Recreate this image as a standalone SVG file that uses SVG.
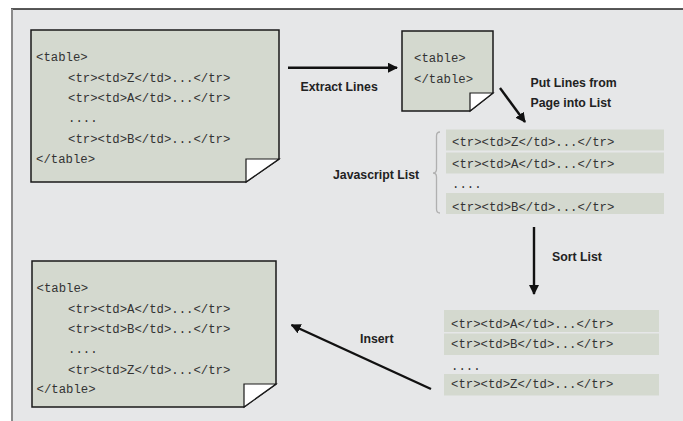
<svg xmlns="http://www.w3.org/2000/svg" width="683" height="421" viewBox="0 0 683 421">
<defs>
<style>
.page{fill:#d4d9cf;stroke:#1a1a1a;stroke-width:1.5}
.fold{fill:#ffffff;stroke:#1a1a1a;stroke-width:1.2}
.code{font-family:"Liberation Mono","Courier New","Nimbus Mono PS",Courier,monospace;font-size:12.3px;fill:#333}
.lbl{font-family:"Liberation Sans",Arial,sans-serif;font-size:12.3px;font-weight:bold;fill:#222}
.row{fill:#d4d9cf}
.conn{stroke:#111;stroke-width:2.4;fill:none}
</style>
<marker id="ah" viewBox="0 0 10 10" refX="9" refY="5" markerWidth="4.2" markerHeight="4.2" markerUnits="strokeWidth" orient="auto">
<path d="M0,0 L10,5 L0,10 z" fill="#111"/>
</marker>
</defs>
<rect x="0" y="0" width="683" height="421" fill="#ffffff"/>
<rect x="11" y="9" width="672" height="412" fill="#e6e7e8"/>
<line x1="11" y1="9" x2="683" y2="9" stroke="#222" stroke-width="1.6"/>
<line x1="12" y1="9" x2="12" y2="421" stroke="#8a8a8a" stroke-width="2"/>

<g id="page-original">
<path class="page" d="M31,30 H279 V159 L246,182 H31 Z"/>
<path class="fold" d="M246,159 H279 L246,182 Z"/>
<text class="code" x="36" y="61">&lt;table&gt;</text>
<text class="code" x="68" y="81.5">&lt;tr&gt;&lt;td&gt;Z&lt;/td&gt;...&lt;/tr&gt;</text>
<text class="code" x="68" y="102">&lt;tr&gt;&lt;td&gt;A&lt;/td&gt;...&lt;/tr&gt;</text>
<text class="code" x="68" y="122">....</text>
<text class="code" x="68" y="142.5">&lt;tr&gt;&lt;td&gt;B&lt;/td&gt;...&lt;/tr&gt;</text>
<text class="code" x="36" y="163">&lt;/table&gt;</text>
</g>

<g id="page-empty">
<path class="page" d="M402,31 H493 V93 L470,111 H402 Z"/>
<path class="fold" d="M470,93 H493 L470,111 Z"/>
<text class="code" x="414" y="61.5">&lt;table&gt;</text>
<text class="code" x="414" y="83">&lt;/table&gt;</text>
</g>

<g id="js-list">
<rect class="row" x="446" y="129.5" width="218" height="21"/>
<rect class="row" x="446" y="152.5" width="218" height="21"/>
<rect class="row" x="446" y="193" width="218" height="21"/>
<text class="code" x="452" y="146">&lt;tr&gt;&lt;td&gt;Z&lt;/td&gt;...&lt;/tr&gt;</text>
<text class="code" x="452" y="167.5">&lt;tr&gt;&lt;td&gt;A&lt;/td&gt;...&lt;/tr&gt;</text>
<text class="code" x="452" y="188">....</text>
<text class="code" x="452" y="211">&lt;tr&gt;&lt;td&gt;B&lt;/td&gt;...&lt;/tr&gt;</text>
<path d="M440,132 Q436.5,132 436.5,136 V169 Q436.5,173 433,173 Q436.5,173 436.5,177 V209 Q436.5,213 440,213" fill="none" stroke="#b0b0b0" stroke-width="1.3"/>
<text class="lbl" x="333" y="178.5">Javascript List</text>
</g>

<g id="sorted-list">
<rect class="row" x="444" y="310" width="215" height="22"/>
<rect class="row" x="444" y="333.5" width="215" height="21.5"/>
<rect class="row" x="444" y="374" width="215" height="21.5"/>
<text class="code" x="451" y="328">&lt;tr&gt;&lt;td&gt;A&lt;/td&gt;...&lt;/tr&gt;</text>
<text class="code" x="451" y="347.5">&lt;tr&gt;&lt;td&gt;B&lt;/td&gt;...&lt;/tr&gt;</text>
<text class="code" x="451" y="369.5">....</text>
<text class="code" x="451" y="388">&lt;tr&gt;&lt;td&gt;Z&lt;/td&gt;...&lt;/tr&gt;</text>
</g>

<g id="page-sorted">
<path class="page" d="M32,261 H276 V384 L244,407 H32 Z"/>
<path class="fold" d="M244,384 H276 L244,407 Z"/>
<text class="code" x="36.5" y="292">&lt;table&gt;</text>
<text class="code" x="68" y="312.5">&lt;tr&gt;&lt;td&gt;A&lt;/td&gt;...&lt;/tr&gt;</text>
<text class="code" x="68" y="332.5">&lt;tr&gt;&lt;td&gt;B&lt;/td&gt;...&lt;/tr&gt;</text>
<text class="code" x="68" y="353">....</text>
<text class="code" x="68" y="373.5">&lt;tr&gt;&lt;td&gt;Z&lt;/td&gt;...&lt;/tr&gt;</text>
<text class="code" x="36.5" y="392.5">&lt;/table&gt;</text>
</g>

<g id="connectors">
<line class="conn" x1="288" y1="67.7" x2="397" y2="67.7" marker-end="url(#ah)"/>
<line class="conn" x1="500" y1="88" x2="525" y2="122" marker-end="url(#ah)"/>
<line class="conn" x1="534" y1="227" x2="534" y2="294" marker-end="url(#ah)"/>
<line class="conn" x1="431" y1="389" x2="291.5" y2="325" marker-end="url(#ah)"/>
<text class="lbl" x="300.5" y="90.5">Extract Lines</text>
<text class="lbl" x="530.5" y="87">Put Lines from</text>
<text class="lbl" x="530.5" y="106.5">Page into List</text>
<text class="lbl" x="552" y="260.5">Sort List</text>
<text class="lbl" x="360" y="342.5">Insert</text>
</g>
</svg>
